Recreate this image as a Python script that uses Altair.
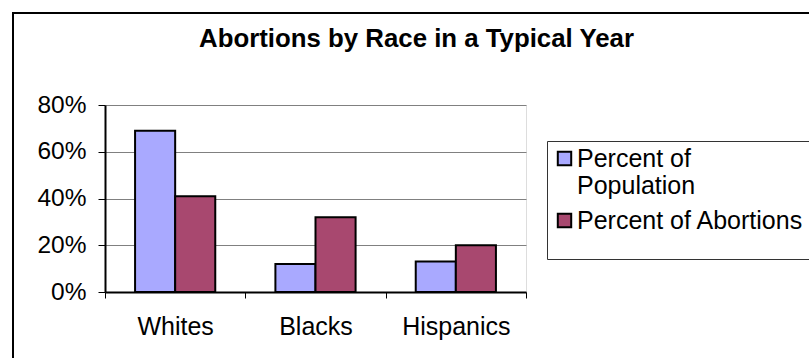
import altair as alt
import pandas as pd

# Chart data
groups = ["Whites", "Blacks", "Hispanics"]
series = ["Percent of Population", "Percent of Abortions"]
population = [0.69, 0.12, 0.13]
abortions = [0.41, 0.32, 0.20]
y_ticks = [0.0, 0.2, 0.4, 0.6, 0.8]
colors = ["#A9A9FF", "#A8486F"]

rows = []
for g, p, a in zip(groups, population, abortions):
    rows.append({"group": g, "series": series[0], "value": p})
    rows.append({"group": g, "series": series[1], "value": a})
df = pd.DataFrame(rows)

FONT = "Liberation Sans"
PLOT_W, PLOT_H = 421, 187
PAD = {"left": 105, "top": 105, "right": 283, "bottom": 66}

# outer chart-area frame
frame = alt.Chart(pd.DataFrame({"k": [0]})).mark_rect(
    fill="white", fillOpacity=0, stroke="black", strokeWidth=2
).encode(
    x=alt.value(-92), x2=alt.value(PLOT_W + 400),
    y=alt.value(-92), y2=alt.value(PLOT_H + 200),
)

bars = alt.Chart(df).mark_bar(stroke="black", strokeWidth=2).encode(
    x=alt.X(
        "group:N", sort=groups, title=None,
        scale=alt.Scale(paddingInner=0, paddingOuter=0),
        axis=alt.Axis(
            labelAngle=0, tickBand="extent", grid=False,
            domainColor="black", domainWidth=2,
            tickColor="black", tickWidth=1, tickSize=6,
            labelFont=FONT, labelFontSize=25, labelColor="black",
            labelPadding=16,
        ),
    ),
    xOffset=alt.XOffset(
        "series:N", sort=series,
        scale=alt.Scale(paddingInner=0, paddingOuter=0.75),
    ),
    y=alt.Y(
        "value:Q", title=None,
        scale=alt.Scale(domain=[0, 0.8], nice=False),
        axis=alt.Axis(
            values=y_ticks, format=".0%",
            grid=True, gridColor="#808080", gridWidth=1,
            domainColor="black", domainWidth=2,
            tickColor="black", tickWidth=1, tickSize=7,
            labelFont=FONT, labelFontSize=24.5, labelColor="black",
            labelPadding=12,
        ),
    ),
    color=alt.Color(
        "series:N", sort=series,
        scale=alt.Scale(domain=series, range=colors),
        legend=alt.Legend(
            title=" ", titleOrient="bottom", titleFontSize=14, titlePadding=6,
            orient="none", legendX=442, legendY=36,
            symbolType="square", symbolSize=180,
            symbolStrokeColor="black", symbolStrokeWidth=2,
            symbolOpacity=1,
            labelFont=FONT, labelFontSize=25, labelColor="black",
            labelLimit=400, labelOffset=0,
            labelExpr="datum.label == 'Percent of Population' ? ['Percent of', 'Population'] : datum.label",
            strokeColor="#333333", padding=5, rowPadding=9,
        ),
    ),
)

chart = alt.layer(frame, bars).properties(
    width=PLOT_W, height=PLOT_H,
    title=alt.TitleParams(
        "Abortions by Race in a Typical Year",
        font=FONT, fontSize=25.8, fontWeight="bold", color="black",
        anchor="middle", frame="group", dx=101, offset=-61,
        baseline="alphabetic",
    ),
    padding=PAD,
    autosize=alt.AutoSizeParams(type="none"),
).configure_view(
    stroke="black", strokeWidth=2,
).configure(background="white")

chart.save("out.html", embed_options={"renderer": "svg", "actions": False})
